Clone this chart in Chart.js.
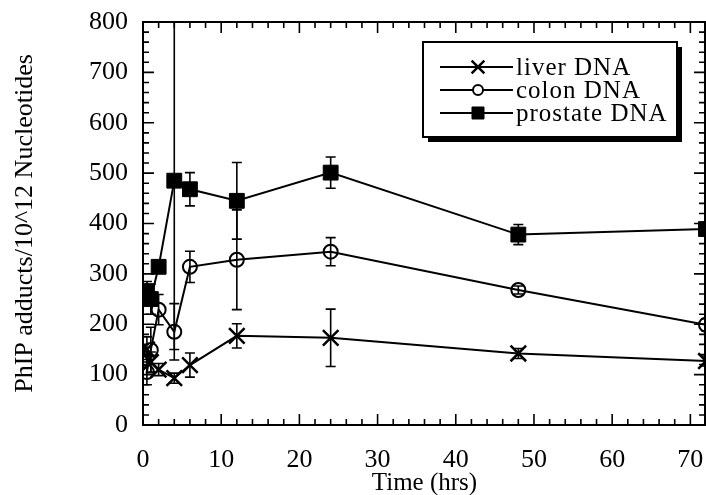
<!DOCTYPE html>
<html>
<head>
<meta charset="utf-8">
<script src="https://cdn.jsdelivr.net/npm/chart.js@4/dist/chart.umd.min.js"></script>
<style>
  html, body { margin: 0; padding: 0; background: #fff; }
  #wrap { width: 706px; height: 495px; position: relative; }
</style>
</head>
<body>
<div id="wrap"><canvas id="adductChart"></canvas></div>
<script>
// time points (hrs)
const hours = [0.5, 1, 2, 4, 6, 12, 24, 48, 72];

// PhIP adducts / 10^12 nucleotides
const liverDNA = [150, 125, 110, 93, 119, 177, 173, 142, 127];
const liverErr = [25, 20, 12, 10, 24, 24, 57, 10, 10];
const colonDNA = [105, 149, 229, 185, 314, 328, 344, 268, 199];
const colonErr = [25, 45, 30, 56, 31, 99, 28, 8, 12];
const prostateDNA = [265, 250, 314, 485, 468, 445, 501, 378, 389];
const prostateErr = [20, 30, 10, 335, 33, 76, 31, 20, 10];

const seriesLabels = ["liver DNA", "colon DNA", "prostate DNA"];
const xTickValues = [0, 10, 20, 30, 40, 50, 60, 70];
const yTickValues = [0, 100, 200, 300, 400, 500, 600, 700, 800];

const FONT = "'Liberation Serif', 'Times New Roman', serif";

function toPoints(vals) {
    return vals.map((v, i) => ({ x: hours[i], y: v }));
}

// vertical error bars with caps
const errorBars = {
    id: "errorBars",
    afterDatasetsDraw(chart) {
        const ctx = chart.ctx;
        const area = chart.chartArea;
        const yScale = chart.scales.y;
        ctx.save();
        ctx.beginPath();
        ctx.rect(area.left, area.top, area.right - area.left, area.bottom - area.top);
        ctx.clip();
        ctx.strokeStyle = "#000";
        ctx.lineWidth = 1.6;
        chart.data.datasets.forEach((ds, di) => {
            const meta = chart.getDatasetMeta(di);
            ds.errors.forEach((e, i) => {
                const pt = meta.data[i];
                const v = ds.data[i].y;
                const yTop = yScale.getPixelForValue(v + e);
                const yBot = yScale.getPixelForValue(v - e);
                ctx.beginPath();
                ctx.moveTo(pt.x, yTop);
                ctx.lineTo(pt.x, yBot);
                ctx.moveTo(pt.x - 5, yTop);
                ctx.lineTo(pt.x + 5, yTop);
                ctx.moveTo(pt.x - 5, yBot);
                ctx.lineTo(pt.x + 5, yBot);
                ctx.stroke();
            });
        });
        ctx.restore();
    }
};

// box frame with inward ticks on all four sides
const frameTicks = {
    id: "frameTicks",
    afterDraw(chart) {
        const ctx = chart.ctx;
        const a = chart.chartArea;
        const xs = chart.scales.x;
        const ys = chart.scales.y;
        ctx.save();
        ctx.strokeStyle = "#000";
        ctx.lineWidth = 2;
        ctx.strokeRect(a.left, a.top, a.right - a.left - 1, a.bottom - a.top);
        ctx.lineWidth = 1.6;
        ctx.beginPath();
        for (let t = 0; t <= 72; t += 2) {
            const x = xs.getPixelForValue(t);
            const len = t % 10 === 0 ? 11 : 6;
            ctx.moveTo(x, a.bottom);
            ctx.lineTo(x, a.bottom - len);
            ctx.moveTo(x, a.top);
            ctx.lineTo(x, a.top + len);
        }
        for (let v = 0; v <= 800; v += 20) {
            const y = ys.getPixelForValue(v);
            const len = v % 100 === 0 ? 11 : 6;
            ctx.moveTo(a.left, y);
            ctx.lineTo(a.left + len, y);
            ctx.moveTo(a.right - 1, y);
            ctx.lineTo(a.right - 1 - len, y);
        }
        ctx.stroke();
        ctx.restore();
    }
};

// legend box with drop shadow inside the plot
const boxLegend = {
    id: "boxLegend",
    afterDraw(chart) {
        const ctx = chart.ctx;
        const a = chart.chartArea;
        const bx = a.right - 283, by = a.top + 20, bw = 254, bh = 95;
        ctx.save();
        ctx.fillStyle = "#000";
        ctx.fillRect(bx + 5, by + 5, bw, bh);
        ctx.fillStyle = "#fff";
        ctx.fillRect(bx, by, bw, bh);
        ctx.strokeStyle = "#000";
        ctx.lineWidth = 2;
        ctx.strokeRect(bx, by, bw, bh);
        ctx.textBaseline = "middle";
        ctx.textAlign = "left";
        chart.data.datasets.forEach((ds, i) => {
            const y = by + 25 + i * 23;
            ctx.lineWidth = 2;
            ctx.strokeStyle = "#000";
            ctx.beginPath();
            ctx.moveTo(bx + 17, y);
            ctx.lineTo(bx + 90, y);
            ctx.stroke();
            ctx.fillStyle = ds.pointBackgroundColor === "#000" ? "#000" : "#fff";
            ctx.lineWidth = ds.pointBorderWidth;
            Chart.helpers.drawPoint(ctx, {
                pointStyle: ds.pointStyle,
                radius: ds.legendRadius,
                rotation: 0,
                borderWidth: ds.pointBorderWidth
            }, bx + 55, y);
            ctx.fillStyle = "#000";
            ctx.font = "25px " + FONT;
            ctx.letterSpacing = "1px";
            ctx.fillText(ds.label, bx + 93, y + 1);
            ctx.letterSpacing = "0px";
        });
        ctx.restore();
    }
};

const ctx = document.getElementById("adductChart").getContext("2d");
new Chart(ctx, {
    type: "line",
    data: {
        datasets: [
            {
                label: seriesLabels[0],
                data: toPoints(liverDNA),
                errors: liverErr,
                borderColor: "#000",
                borderWidth: 2,
                pointStyle: "crossRot",
                pointRadius: 11,
                legendRadius: 9,
                pointBorderWidth: 2.5,
                pointBorderColor: "#000",
                pointBackgroundColor: "#000",
                tension: 0,
                fill: false
            },
            {
                label: seriesLabels[1],
                data: toPoints(colonDNA),
                errors: colonErr,
                borderColor: "#000",
                borderWidth: 2,
                pointStyle: "circle",
                pointRadius: 7,
                legendRadius: 5,
                pointBorderWidth: 2,
                pointBorderColor: "#000",
                pointBackgroundColor: "rgba(0,0,0,0)",
                tension: 0,
                fill: false
            },
            {
                label: seriesLabels[2],
                data: toPoints(prostateDNA),
                errors: prostateErr,
                borderColor: "#000",
                borderWidth: 2,
                pointStyle: "rect",
                pointRadius: 10.5,
                legendRadius: 8.5,
                pointBorderWidth: 1,
                pointBorderColor: "#000",
                pointBackgroundColor: "#000",
                tension: 0,
                fill: false
            }
        ]
    },
    options: {
        responsive: true,
        maintainAspectRatio: false,
        animation: false,
        layout: { autoPadding: false, padding: { top: 22, right: 0, left: 0, bottom: 0 } },
        plugins: {
            legend: { display: false },
            tooltip: { enabled: false }
        },
        scales: {
            x: {
                type: "linear",
                min: 0,
                max: 72,
                afterBuildTicks: (s) => { s.ticks = xTickValues.map(v => ({ value: v })); },
                afterFit: (s) => { s.height = 70; s.paddingLeft = 0; s.paddingRight = 0; },
                grid: { display: false, drawTicks: false },
                border: { display: false },
                ticks: {
                    autoSkip: false,
                    maxRotation: 0,
                    padding: 20,
                    color: "#000",
                    font: { family: FONT, size: 26 }
                },
                title: {
                    display: true,
                    text: "Time (hrs)",
                    color: "#000",
                    padding: { top: 0, bottom: -3 },
                    font: { family: FONT, size: 25 }
                }
            },
            y: {
                min: 0,
                max: 800,
                afterBuildTicks: (s) => { s.ticks = yTickValues.map(v => ({ value: v })); },
                afterFit: (s) => { s.width = 143; s.paddingTop = 0; s.paddingBottom = 0; },
                grid: { display: false, drawTicks: false },
                border: { display: false },
                ticks: {
                    padding: 15,
                    color: "#000",
                    font: { family: FONT, size: 26 }
                },
                title: {
                    display: true,
                    text: "PhIP adducts/10^12 Nucleotides",
                    color: "#000",
                    padding: { top: 10, bottom: 0 },
                    font: { family: FONT, size: 26 }
                }
            }
        }
    },
    plugins: [errorBars, frameTicks, boxLegend]
});
</script>
</body>
</html>
